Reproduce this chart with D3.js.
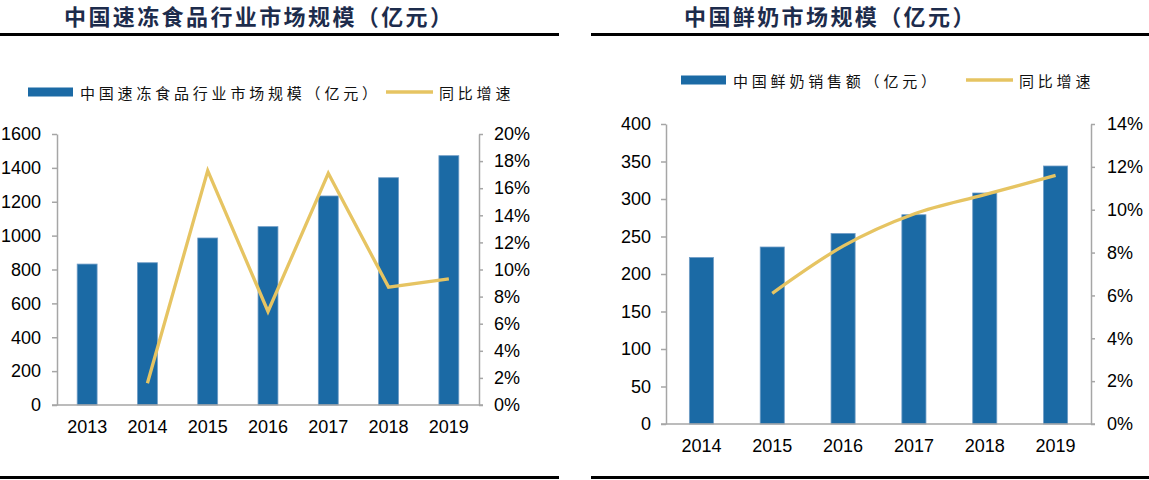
<!DOCTYPE html>
<html>
<head>
<meta charset="utf-8">
<script src="https://cdn.jsdelivr.net/npm/d3@7/dist/d3.min.js"></script>
<style>
  html, body { margin: 0; padding: 0; background: #fff; }
  svg { display: block; }
  .num { font-family: "Liberation Sans", Arial, sans-serif; font-size: 18px; fill: #000; }
  .title { font-family: "Noto Sans CJK SC", sans-serif; font-weight: 700; font-size: 22px; fill: #1d2c4c; letter-spacing: 2.4px; }
  .legend { font-family: "Noto Sans CJK SC", sans-serif; font-weight: 400; font-size: 15px; fill: #111; letter-spacing: 3.8px; }
</style>
</head>
<body>
<svg id="chart" width="1149" height="480"></svg>
<script>
// ---------- Data ----------
const frozenTitle = "中国速冻食品行业市场规模（亿元）";
const frozenBarLabel = "中国速冻食品行业市场规模（亿元）";
const frozenLineLabel = "同比增速";
const frozenYears = ["2013", "2014", "2015", "2016", "2017", "2018", "2019"];
const frozenSize = [832, 840, 986, 1053, 1234, 1342, 1472];
const frozenGrowth = [null, 1.6, 17.3, 6.9, 17.1, 8.7, 9.3];
const frozenLeftTicks = [0, 200, 400, 600, 800, 1000, 1200, 1400, 1600];
const frozenRightTicks = [0, 2, 4, 6, 8, 10, 12, 14, 16, 18, 20];

const milkTitle = "中国鲜奶市场规模（亿元）";
const milkBarLabel = "中国鲜奶销售额（亿元）";
const milkLineLabel = "同比增速";
const milkYears = ["2014", "2015", "2016", "2017", "2018", "2019"];
const milkSales = [222, 236, 254, 279, 308, 344];
const milkGrowth = [null, 6.1, 8.3, 9.8, 10.7, 11.6];
const milkLeftTicks = [0, 50, 100, 150, 200, 250, 300, 350, 400];
const milkRightTicks = [0, 2, 4, 6, 8, 10, 12, 14];

// ---------- Styles ----------
const BAR = "#1b6aa5";
const BAR_EDGE = "#6f9cc6";
const LINE = "#e6c462";
const AXIS = "#a6a6a6";

const svg = d3.select("#chart");

function drawPanel(cfg) {
  const g = svg.append("g");

  // Title and rules
  g.append("text").attr("class", "title")
    .attr("x", cfg.titleX).attr("y", 25).text(cfg.title);
  g.append("rect").attr("x", cfg.ruleX0).attr("y", 33)
    .attr("width", cfg.ruleX1 - cfg.ruleX0).attr("height", 3).attr("fill", "#000");
  g.append("rect").attr("x", cfg.ruleX0).attr("y", 476)
    .attr("width", cfg.ruleX1 - cfg.ruleX0).attr("height", 3).attr("fill", "#000");

  // Legend
  const ly = cfg.legendY;
  g.append("rect").attr("x", cfg.legRectX).attr("y", ly - 4.5)
    .attr("width", 45).attr("height", 9).attr("fill", BAR);
  g.append("text").attr("class", "legend")
    .attr("x", cfg.legRectX + 52).attr("y", ly).attr("dominant-baseline", "central")
    .text(cfg.barLabel);
  g.append("line").attr("x1", cfg.legLineX).attr("x2", cfg.legLineX + 47)
    .attr("y1", ly).attr("y2", ly).attr("stroke", LINE).attr("stroke-width", 3.3);
  g.append("text").attr("class", "legend")
    .attr("x", cfg.legLineX + 53).attr("y", ly).attr("dominant-baseline", "central")
    .text(cfg.lineLabel);

  // Scales
  const x = d3.scaleBand().domain(cfg.cats)
    .range([cfg.x0, cfg.x1]).paddingInner(cfg.padInner).paddingOuter(cfg.padInner / 2);
  const y = d3.scaleLinear().domain([0, cfg.yMax]).range([cfg.y0, cfg.y1]);
  const y2 = d3.scaleLinear().domain([0, cfg.y2Max]).range([cfg.y0, cfg.y1]);

  // Bars
  g.append("g").selectAll("rect").data(cfg.values).join("rect")
    .attr("x", (d, i) => x(cfg.cats[i]))
    .attr("y", d => y(d))
    .attr("width", x.bandwidth())
    .attr("height", d => y(0) - y(d))
    .attr("fill", BAR)
    .attr("stroke", BAR_EDGE).attr("stroke-width", 0.8);

  // Left axis
  const la = g.append("g").attr("transform", `translate(${cfg.x0},0)`)
    .call(d3.axisLeft(y).tickValues(cfg.leftTicks).tickSize(cfg.tickLen)
      .tickPadding(cfg.lPad).tickSizeOuter(0).tickFormat(d3.format("d")));
  la.select(".domain").attr("stroke", AXIS).attr("stroke-width", 1.5);
  la.selectAll(".tick line").attr("stroke", AXIS).attr("stroke-width", 1.5);
  la.selectAll(".tick text").attr("class", "num").attr("font-family", null).attr("font-size", null);

  // Right axis
  const ra = g.append("g").attr("transform", `translate(${cfg.x1},0)`)
    .call(d3.axisRight(y2).tickValues(cfg.rightTicks).tickSize(cfg.tickLenR)
      .tickPadding(cfg.rPad).tickSizeOuter(0).tickFormat(d => d + "%"));
  ra.select(".domain").attr("stroke", AXIS).attr("stroke-width", 1.5);
  ra.selectAll(".tick line").attr("stroke", AXIS).attr("stroke-width", 1.5);
  ra.selectAll(".tick text").attr("class", "num").attr("font-family", null).attr("font-size", null);

  // Baseline (x axis)
  const xa = g.append("g").attr("transform", `translate(0,${cfg.y0})`)
    .call(d3.axisBottom(x).tickSize(0).tickPadding(cfg.xPad).tickSizeOuter(0));
  xa.select(".domain").remove();
  xa.selectAll(".tick text").attr("class", "num").attr("font-family", null).attr("font-size", null);
  g.append("line").attr("x1", cfg.x0 - cfg.tickLen).attr("x2", cfg.x1 + cfg.tickLenR)
    .attr("y1", cfg.y0).attr("y2", cfg.y0).attr("stroke", AXIS).attr("stroke-width", 1.5);

  // Growth line
  const pts = cfg.growth.map((v, i) => [cfg.cats[i], v]).filter(p => p[1] !== null);
  const line = d3.line()
    .x(p => x(p[0]) + x.bandwidth() / 2)
    .y(p => y2(p[1]))
    .curve(cfg.curve);
  g.append("path").datum(pts).attr("d", line)
    .attr("fill", "none").attr("stroke", LINE).attr("stroke-width", 3.3)
    .attr("stroke-linejoin", "miter").attr("stroke-linecap", "butt");
}

drawPanel({
  title: frozenTitle, barLabel: frozenBarLabel, lineLabel: frozenLineLabel,
  titleX: 64, ruleX0: 0, ruleX1: 559,
  legendY: 92, legRectX: 28, legLineX: 386,
  cats: frozenYears, values: frozenSize, growth: frozenGrowth,
  leftTicks: frozenLeftTicks, rightTicks: frozenRightTicks,
  yMax: 1600, y2Max: 20,
  x0: 57, x1: 479, y0: 405, y1: 134, padInner: 0.67,
  tickLen: 5, tickLenR: 4, lPad: 11, rPad: 11, xPad: 15,
  curve: d3.curveLinear
});

drawPanel({
  title: milkTitle, barLabel: milkBarLabel, lineLabel: milkLineLabel,
  titleX: 684, ruleX0: 591, ruleX1: 1149,
  legendY: 80, legRectX: 681, legLineX: 966,
  cats: milkYears, values: milkSales, growth: milkGrowth,
  leftTicks: milkLeftTicks, rightTicks: milkRightTicks,
  yMax: 400, y2Max: 14,
  x0: 666, x1: 1091, y0: 424, y1: 124, padInner: 0.66,
  tickLen: 5, tickLenR: 4, lPad: 10, rPad: 12, xPad: 15,
  curve: d3.curveMonotoneX
});
</script>
</body>
</html>
